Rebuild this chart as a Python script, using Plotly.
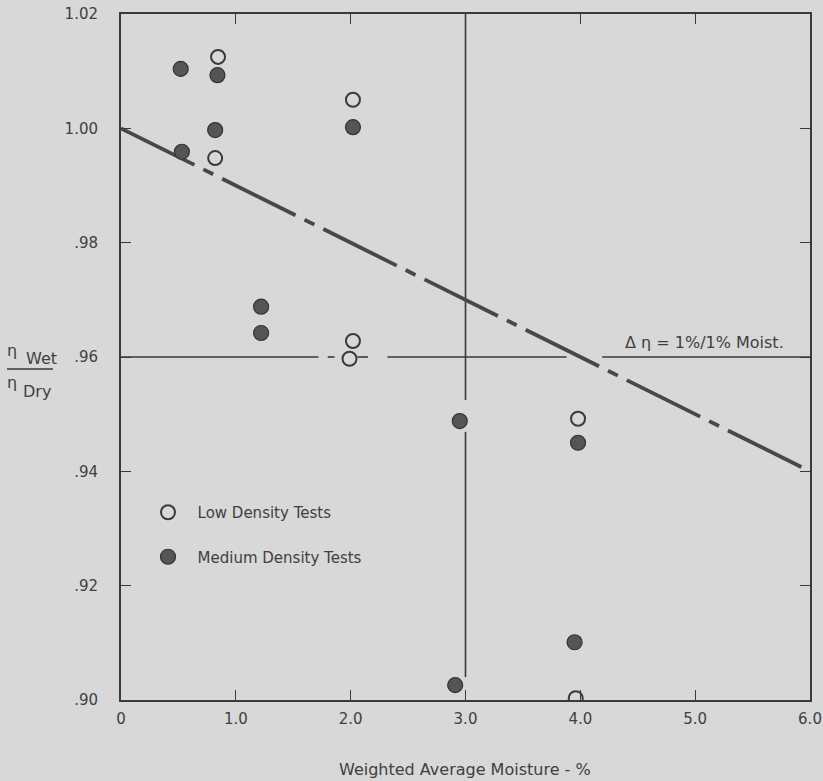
import plotly.graph_objects as go

# ---- data ----
low_x = [0.845, 0.82, 2.02, 2.02, 1.99, 3.98, 3.96]
low_y = [1.0125, 0.9948, 1.0050, 0.9628, 0.9597, 0.9492, 0.9003]

med_x = [0.52, 0.84, 0.82, 2.02, 0.53, 1.22, 1.22, 2.95, 3.98, 3.95, 2.91]
med_y = [1.0104, 1.0093, 0.9997, 1.0002, 0.9959, 0.9688, 0.9642, 0.9488, 0.9450, 0.9101, 0.9026]

fit_x = [0.0, 6.0]
fit_y = [1.00, 0.94]

x_ticks = [0, 1, 2, 3, 4, 5, 6]
x_labels = ["0", "1.0", "2.0", "3.0", "4.0", "5.0", "6.0"]
y_ticks = [0.90, 0.92, 0.94, 0.96, 0.98, 1.00, 1.02]
y_labels = [".90", ".92", ".94", ".96", ".98", "1.00", "1.02"]

# reference lines (drawn in pieces, with the gaps seen in the original)
grid_y_value = 0.96
grid_y_segments = [(0.0, 1.72), (1.80, 1.86), (2.06, 2.15), (2.32, 3.88), (4.19, 6.0)]
grid_x_value = 3.0
grid_x_segments = [(0.9525, 1.02), (0.904, 0.9469)]

INK = "#3a3a3a"
TXT = "#404040"
BG = "#d8d8d8"
FONT = "DejaVu Sans"

# plot-area geometry in pixels (for placing loose texts)
L, R, T, B = 121, 13, 14, 81
W, H = 823, 781
PW, PH = W - L - R, H - T - B


def px(xp):
    return (xp - L) / PW


def py(yp):
    return (H - B - yp) / PH


fig = go.Figure()

for (a, b) in grid_y_segments:
    fig.add_trace(go.Scatter(x=[a, b], y=[grid_y_value, grid_y_value], mode="lines",
                             showlegend=False, hoverinfo="skip",
                             line=dict(color=INK, width=1.6)))
for (a, b) in grid_x_segments:
    fig.add_trace(go.Scatter(x=[grid_x_value, grid_x_value], y=[a, b], mode="lines",
                             showlegend=False, hoverinfo="skip",
                             line=dict(color=INK, width=1.6)))

fig.add_trace(go.Scatter(
    x=fit_x, y=fit_y, mode="lines", showlegend=False,
    line=dict(color="#484848", width=3.8, dash="82px,10px,11px,10px"),
    hoverinfo="skip",
))

fig.add_trace(go.Scatter(
    x=low_x, y=low_y, mode="markers", name="\u00a0\u00a0Low Density Tests",
    legendgroup="low",
    marker=dict(symbol="circle-open", size=14, color=INK, line=dict(width=2, color=INK)),
))
fig.add_trace(go.Scatter(
    x=med_x, y=med_y, mode="markers", name="\u00a0\u00a0Medium Density Tests",
    legendgroup="med",
    marker=dict(symbol="circle", size=15, color="#555555", line=dict(width=1.2, color="#333333")),
))

axis_common = dict(
    showline=True, linecolor=INK, linewidth=2, mirror="ticks",
    ticks="inside", ticklen=10, tickwidth=1.4, tickcolor=INK,
    showgrid=False, zeroline=False, automargin=False,
    tickfont=dict(family=FONT, size=15, color=TXT),
)

fig.update_xaxes(range=[0, 6], tickvals=x_ticks, ticktext=x_labels,
                 ticklabelstandoff=4, **axis_common)
fig.update_yaxes(range=[0.90, 1.02], tickvals=y_ticks, ticktext=y_labels,
                 ticklabelstandoff=18, **axis_common)

# x-axis title
fig.add_annotation(xref="paper", yref="paper", x=px(465), y=py(770),
                   xanchor="center", yanchor="middle", showarrow=False,
                   text="Weighted Average Moisture - %",
                   font=dict(family=FONT, size=16, color=TXT))

# y-axis "title" as a fraction  η Wet / η Dry
fig.add_annotation(xref="paper", yref="paper", x=px(12), y=py(350), xanchor="center",
                   yanchor="middle", text="η", showarrow=False,
                   font=dict(family=FONT, size=16, color=TXT))
fig.add_annotation(xref="paper", yref="paper", x=px(24), y=py(358), xanchor="left",
                   yanchor="middle", text="Wet", showarrow=False,
                   font=dict(family=FONT, size=16, color=TXT))
fig.add_shape(type="line", xref="paper", yref="paper", x0=px(7), x1=px(53),
              y0=py(369), y1=py(369), line=dict(color=INK, width=1.5))
fig.add_annotation(xref="paper", yref="paper", x=px(12), y=py(383), xanchor="center",
                   yanchor="middle", text="η", showarrow=False,
                   font=dict(family=FONT, size=16, color=TXT))
fig.add_annotation(xref="paper", yref="paper", x=px(21), y=py(391), xanchor="left",
                   yanchor="middle", text="Dry", showarrow=False,
                   font=dict(family=FONT, size=16, color=TXT))

fig.add_annotation(xref="paper", yref="y", x=px(786), y=grid_y_value, xanchor="right",
                   yanchor="bottom", yshift=3, text="Δ η = 1%/1% Moist.", showarrow=False,
                   font=dict(family=FONT, size=16, color=TXT))

fig.update_layout(
    width=W, height=H,
    margin=dict(l=L, r=R, t=T, b=B, autoexpand=False),
    paper_bgcolor=BG, plot_bgcolor=BG,
    legend=dict(x=px(148), y=py(496), xanchor="left", yanchor="top",
                bgcolor="rgba(0,0,0,0)", tracegroupgap=22,
                font=dict(family=FONT, size=15, color=TXT)),
)

fig.write_html("out.html", post_script="document.body.style.margin='0';",
               config={"displayModeBar": False})
